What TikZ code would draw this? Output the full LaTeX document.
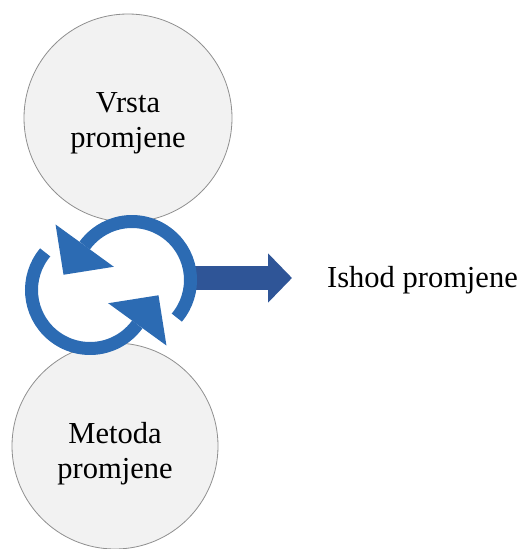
\documentclass[tikz,border=0pt]{standalone}
\usepackage{fontspec}
\setmainfont{Liberation Serif}
\usepackage{xcolor}
\usepackage{tikz}
\usetikzlibrary{shapes, arrows.meta, positioning}

\definecolor{ringblue}{RGB}{44,107,179}
\definecolor{arrowblue}{RGB}{47,85,151}
\definecolor{discfill}{RGB}{242,242,242}
\definecolor{discline}{RGB}{143,143,143}

\tikzset{
	disc/.style={circle, draw=discline, fill=discfill, line width=0.8pt, inner sep=0pt},
	disctext/.style={align=center, inner sep=0pt, font=\fontsize{30.5}{35}\selectfont},
	outtext/.style={inner sep=0pt, font=\fontsize{30.5}{35}\selectfont},
	ring/.style={draw=ringblue, line width=13pt},
	ringtip/.style={fill=ringblue},
	bigarrow/.style={draw=arrowblue, line width=23.5pt, -{Triangle[length=24pt, width=48pt]}}
}

\begin{document}
\begin{tikzpicture}[x=1pt, y=1pt]
			\useasboundingbox (0,0) rectangle (519,-549);
			
			\node[disc, minimum size=208pt] (vrsta) at (128,-118) {};
			\node[disc, minimum size=206pt] (metoda) at (115,-446) {};
			\node[disctext] (vrstatxt) at ([yshift=-5pt]vrsta.center) {Vrsta\\promjene};
			\node[disctext] (metodatxt) at ([yshift=-8pt]metoda.center) {Metoda\\promjene};
			
			\node[outtext, anchor=base west] (ishod) at (327,-287) {Ishod promjene};
			
			\coordinate (cyc) at (111,-285);
			\coordinate (upc) at ([shift={(21,5)}]cyc);
			\coordinate (loc) at ([shift={(-21,-5)}]cyc);
			\coordinate (arrowstart) at (190,-278);
			\coordinate (arrowend) at (292,-278);
			
			\draw[bigarrow] (arrowstart) -- (arrowend);
			
			\draw[ring] ([shift={(-40:58.5)}]upc) arc[start angle=-40, end angle=144, radius=58.5];
			\draw[ring] ([shift={(140:58.5)}]loc) arc[start angle=140, end angle=324, radius=58.5];
			
			\begin{scope}[shift={(upc)}, rotate=144]
				\fill[ringtip] (22.5,0) -- (94.5,0) -- (58.5,36) -- cycle;
			\end{scope}
			\begin{scope}[shift={(loc)}, rotate=324]
				\fill[ringtip] (22.5,0) -- (94.5,0) -- (58.5,36) -- cycle;
			\end{scope}
		\end{tikzpicture}
\end{document}
